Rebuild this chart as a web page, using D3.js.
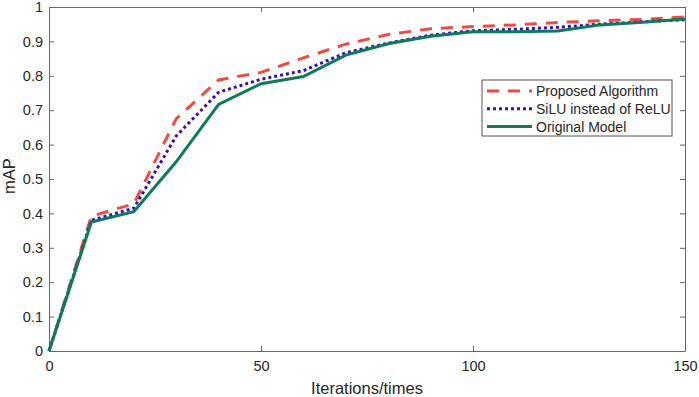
<!DOCTYPE html>
<html>
<head>
<meta charset="utf-8">
<script src="https://cdn.jsdelivr.net/npm/d3@7"></script>
<style>
  body { margin: 0; background: #fff; }
  text { font-family: "Liberation Sans", Arial, sans-serif; }
</style>
</head>
<body>
<div id="chart"></div>
<script>
const iterations = [0, 10, 20, 30, 40, 50, 60, 70, 80, 90, 100, 110, 120, 130, 140, 150];
const proposed = [0, 0.392, 0.428, 0.675, 0.788, 0.81, 0.852, 0.892, 0.92, 0.937, 0.943, 0.948, 0.955, 0.96, 0.964, 0.971];
const silu = [0, 0.38, 0.415, 0.625, 0.752, 0.79, 0.815, 0.867, 0.895, 0.918, 0.931, 0.935, 0.941, 0.95, 0.957, 0.963];
const original = [0, 0.375, 0.405, 0.55, 0.717, 0.777, 0.798, 0.86, 0.893, 0.915, 0.928, 0.928, 0.93, 0.948, 0.956, 0.965];
const xTicks = [0, 50, 100, 150];
const yTicks = [0, 0.1, 0.2, 0.3, 0.4, 0.5, 0.6, 0.7, 0.8, 0.9, 1];

const series = [
    { name: "Proposed Algorithm", values: proposed, color: "#ee4b45", dash: "12,9" },
    { name: "SiLU instead of ReLU", values: silu, color: "#3b0db0", dash: "3,3" },
    { name: "Original Model", values: original, color: "#0c7a5b", dash: null }
];

const width = 699, height = 397;
const margin = { top: 7, right: 14, bottom: 46, left: 49 };
const w = width - margin.left - margin.right;
const h = height - margin.top - margin.bottom;

const svg = d3.select("#chart").append("svg")
    .attr("width", width)
    .attr("height", height);

const g = svg.append("g").attr("transform", `translate(${margin.left},${margin.top})`);

const x = d3.scaleLinear().domain([0, 150]).range([0, w]);
const y = d3.scaleLinear().domain([0, 1]).range([h, 0]);

const axisColor = "#666";
const labelColor = "#262626";

// axes with inward ticks, box mirrored on top/right
function styleAxis(sel) {
    sel.selectAll(".domain").attr("stroke", axisColor);
    sel.selectAll(".tick line").attr("stroke", axisColor);
    sel.selectAll(".tick text").attr("fill", labelColor).style("font-size", "14.5px");
}

g.append("g")
    .attr("transform", `translate(0,${h})`)
    .call(d3.axisBottom(x).tickValues(xTicks).tickSizeInner(-5).tickSizeOuter(0).tickPadding(10))
    .call(styleAxis);

g.append("g")
    .call(d3.axisTop(x).tickValues(xTicks).tickSizeInner(-5).tickSizeOuter(0).tickFormat(""))
    .call(styleAxis);

g.append("g")
    .call(d3.axisLeft(y).tickValues(yTicks).tickSizeInner(-5).tickSizeOuter(0).tickPadding(6)
        .tickFormat(d => d3.format("")(+d.toFixed(1))))
    .call(styleAxis);

g.append("g")
    .attr("transform", `translate(${w},0)`)
    .call(d3.axisRight(y).tickValues(yTicks).tickSizeInner(-5).tickSizeOuter(0).tickFormat(""))
    .call(styleAxis);

// lines
const line = d3.line()
    .x((d, i) => x(iterations[i]))
    .y(d => y(d));

series.forEach(s => {
    g.append("path")
        .datum(s.values)
        .attr("fill", "none")
        .attr("stroke", s.color)
        .attr("stroke-width", 3)
        .attr("stroke-dasharray", s.dash)
        .attr("d", line);
});

// axis titles
svg.append("text")
    .attr("x", margin.left + w / 2)
    .attr("y", 394)
    .attr("text-anchor", "middle")
    .attr("fill", labelColor)
    .style("font-size", "16.5px")
    .text("Iterations/times");

svg.append("text")
    .attr("transform", `translate(15,176) rotate(-90)`)
    .attr("text-anchor", "middle")
    .attr("fill", labelColor)
    .style("font-size", "16.5px")
    .text("mAP");

// legend
const legend = svg.append("g").attr("transform", "translate(482,80)");
legend.append("rect")
    .attr("width", 190)
    .attr("height", 56)
    .attr("fill", "#fff")
    .attr("stroke", "#555")
    .attr("stroke-width", 1);

series.forEach((s, i) => {
    const ly = 11 + i * 17.8;
    legend.append("line")
        .attr("x1", 5).attr("x2", 50)
        .attr("y1", ly).attr("y2", ly)
        .attr("stroke", s.color)
        .attr("stroke-width", 3)
        .attr("stroke-dasharray", s.dash);
    legend.append("text")
        .attr("x", 54)
        .attr("y", ly)
        .attr("dy", "0.35em")
        .attr("fill", labelColor)
        .style("font-size", "14px")
        .text(s.name);
});
</script>
</body>
</html>
